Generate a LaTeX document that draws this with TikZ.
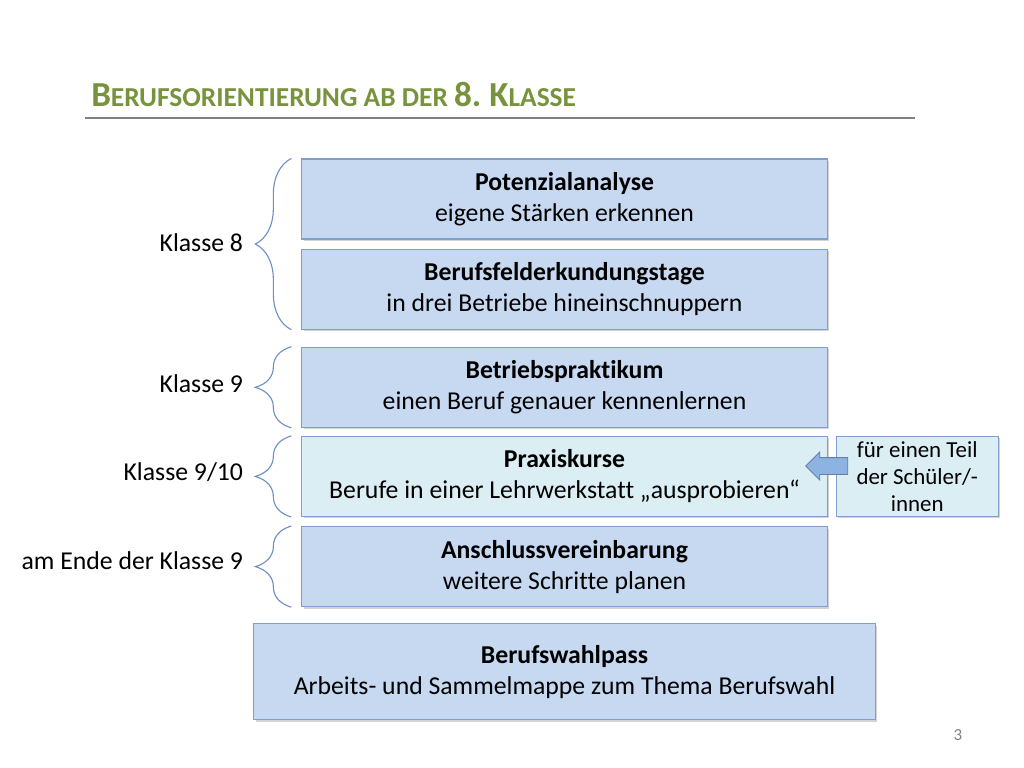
\documentclass[tikz,border=0pt]{standalone}
\usepackage{fontspec}
\setmainfont{Carlito}[Ligatures=NoCommon]
\usetikzlibrary{positioning,shapes.arrows,shadows,decorations.pathreplacing}
\definecolor{titlegreen}{HTML}{77933C}
\definecolor{boxfill}{HTML}{C6D9F1}
\definecolor{boxline}{HTML}{7F9FCF}
\definecolor{lightfill}{HTML}{DBEEF4}
\definecolor{bracecol}{HTML}{6E8FC4}
\definecolor{arrowfill}{HTML}{8DB3E2}

\begin{document}
\begin{tikzpicture}[x=0.025cm,y=-0.025cm,
		stepbox/.style={draw=boxline,fill=boxfill,line width=0.8pt,minimum width=13.125cm,minimum height=2cm,align=center,inner sep=0pt,
			font=\fontsize{18.3}{22}\selectfont,drop shadow={shadow xshift=0.05cm,shadow yshift=-0.05cm,opacity=0.35}},
		klasse/.style={anchor=east,font=\fontsize{18.3}{22}\selectfont},
		brace/.style={draw=bracecol,line width=0.8pt,decorate,decoration={brace,amplitude=0.9cm,aspect=0.5}},
		node distance=0.22cm]
		\useasboundingbox (0,0) rectangle (1024,768);
		% title
		\node[anchor=base west,text=titlegreen,font=\bfseries,inner sep=0pt] (title) at (91,107)
			{\fontsize{25}{28}\selectfont B\fontsize{19.5}{22}\selectfont ERUFSORIENTIERUNG AB DER \fontsize{25}{28}\selectfont 8.~K\fontsize{19.5}{22}\selectfont LASSE};
		\draw[gray,line width=1.5pt] (85,118) coordinate (t1) -- (915,118) coordinate (t2);
		% boxes
		\node[stepbox] (b1) at (564.5,199) {\textbf{Potenzialanalyse}\\eigene Stärken erkennen};
		\node[stepbox,below=0.225cm of b1] (b2) {\textbf{Berufsfelderkundungstage}\\in drei Betriebe hineinschnuppern};
		\node[stepbox,below=0.425cm of b2] (b3) {\textbf{Betriebspraktikum}\\einen Beruf genauer kennenlernen};
		\node[stepbox,fill=lightfill,below=0.2cm of b3] (b4) {\textbf{Praxiskurse}\\Berufe in einer Lehrwerkstatt „ausprobieren“};
		\node[stepbox,below=0.225cm of b4] (b5) {\textbf{Anschlussvereinbarung}\\weitere Schritte planen};
		\node[stepbox,minimum width=15.525cm,minimum height=2.4cm,below=0.4cm of b5] (b6) {\textbf{Berufswahlpass}\\Arbeits- und Sammelmappe zum Thema Berufswahl};
		% side note
		\node[stepbox,fill=lightfill,minimum width=4.05cm,font=\fontsize{16.3}{19.2}\selectfont,right=0.2cm of b4] (note) {für einen Teil\\der Schüler/-\\innen};
		\node[single arrow,draw=boxline!80!black,fill=arrowfill,line width=0.6pt,shape border rotate=180,minimum height=1.05cm,
			inner xsep=0pt,inner ysep=0.2cm,single arrow head extend=0.14cm,single arrow head indent=0cm] (arr) at (831,466) {};
		% braces
		\draw[brace] ([xshift=-0.25cm]b2.south west) -- ([xshift=-0.25cm]b1.north west);
		\draw[brace] ([xshift=-0.25cm]b3.south west) -- ([xshift=-0.25cm]b3.north west);
		\draw[brace] ([xshift=-0.25cm]b4.south west) -- ([xshift=-0.25cm]b4.north west);
		\draw[brace] ([xshift=-0.25cm]b5.south west) -- ([xshift=-0.25cm]b5.north west);
		\node[klasse] (k8) at (248,242.5) {Klasse 8};
		\node[klasse] (k9) at (248,384) {Klasse 9};
		\node[klasse] (k910) at (248,472) {Klasse 9/10};
		\node[klasse] (kend) at (248,561) {am Ende der Klasse 9};
		% page number
		\node[text=gray,font=\fontsize{12}{14}\selectfont] (page) at (958,735) {3};
	\end{tikzpicture}
\end{document}
